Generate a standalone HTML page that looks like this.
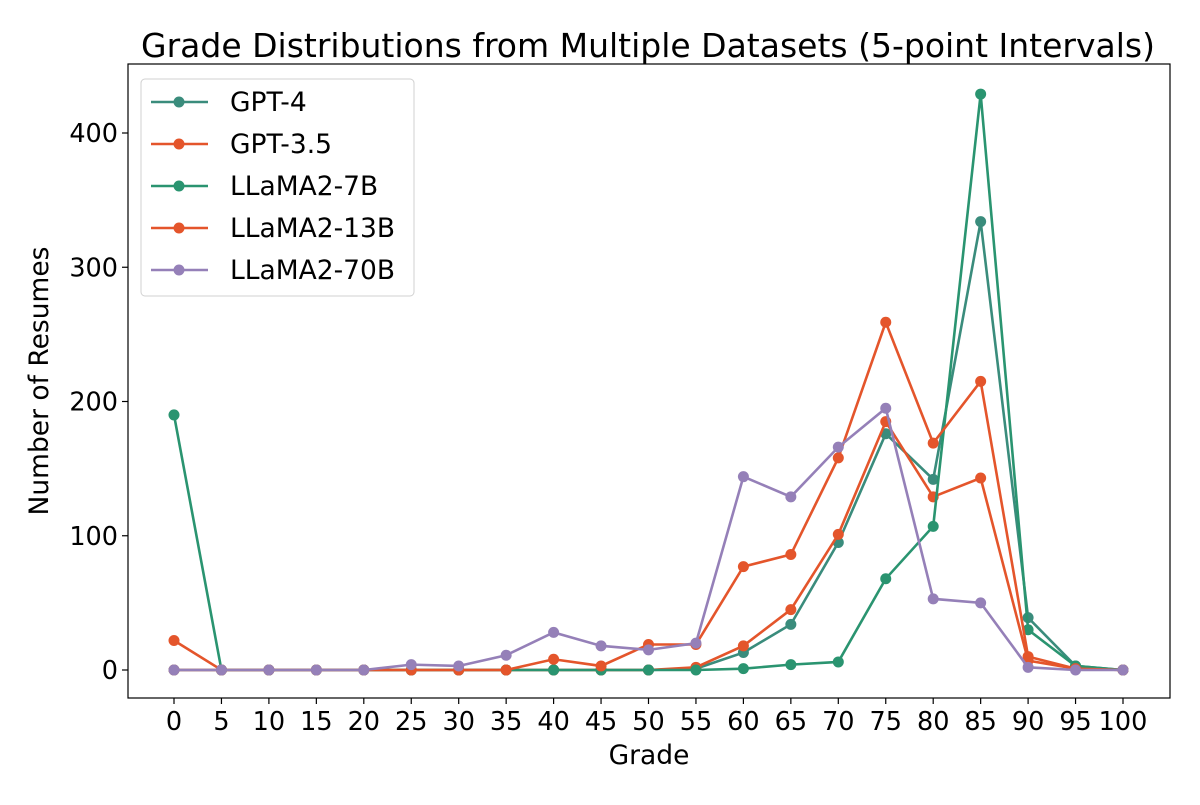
<!DOCTYPE html>
<html><head><meta charset="utf-8"><style>
body{margin:0;background:#fff;}
svg text{font-family:"DejaVu Sans","Liberation Sans",sans-serif;fill:#000;}
</style></head><body>
<svg id="chart" width="1200" height="800" xmlns="http://www.w3.org/2000/svg"></svg>
<script>
const grades=[0,5,10,15,20,25,30,35,40,45,50,55,60,65,70,75,80,85,90,95,100];
const seriesNames=["GPT-4","GPT-3.5","LLaMA2-7B","LLaMA2-13B","LLaMA2-70B"];
const gpt4=[0,0,0,0,0,0,0,0,0,0,0,1,13,34,95,176,142,334,39,3,0];
const gpt35=[0,0,0,0,0,0,0,0,0,0,0,2,18,45,101,185,129,143,7,1,0];
const llama7=[190,0,0,0,0,0,0,0,0,0,0,0,1,4,6,68,107,429,30,3,0];
const llama13=[22,0,0,0,0,0,0,0,8,3,19,19,77,86,158,259,169,215,10,1,0];
const llama70=[0,0,0,0,0,4,3,11,28,18,15,20,144,129,166,195,53,50,2,0,0];
const yTicks=[0,100,200,300,400];
const xTicks=[0,5,10,15,20,25,30,35,40,45,50,55,60,65,70,75,80,85,90,95,100];

const colors=["#3a8c7c","#e4552b","#2a9470","#e4552b","#9580b8"];
const allSeries=[gpt4,gpt35,llama7,llama13,llama70];
const L=128,R=1170,T=64,B=698;
const xs=v=>174+(v-0)*(1123-174)/100;
const ys=v=>670-v*(670-133)/400;
const NS="http://www.w3.org/2000/svg";
const svg=document.getElementById('chart');
function mk(tag,attrs,parent){const e=document.createElementNS(NS,tag);for(const k in attrs)e.setAttribute(k,attrs[k]);(parent||svg).appendChild(e);return e;}

let t=mk('text',{x:648,y:57,'text-anchor':'middle','font-size':33});
t.textContent="Grade Distributions from Multiple Datasets (5-point Intervals)";



const plot=mk('g',{});



allSeries.forEach((s,i)=>{
  const g=mk('g',{},plot);
  
  
  const pts=s.map((v,j)=>xs(grades[j])+','+ys(v)).join(' ');
  const pl=mk('polyline',{points:pts,fill:'none',stroke:colors[i],'stroke-width':2.6},g);
  
  
  s.forEach((v,j)=>{
    const c=mk('circle',{cx:xs(grades[j]),cy:ys(v),r:5.5,fill:colors[i]},g);
    
    
  });
});

const frame=mk('rect',{x:L,y:T,width:R-L,height:B-T,fill:'none',stroke:'#000','stroke-width':1.2});



const xa=mk('g',{});


xTicks.forEach(v=>{
  mk('line',{x1:xs(v),x2:xs(v),y1:B,y2:B+6,stroke:'#000','stroke-width':1.2},xa);
  const tx=mk('text',{x:xs(v),y:B+32,'text-anchor':'middle','font-size':25.5},xa);
  tx.textContent=v;
  
  
});
const ya=mk('g',{});


yTicks.forEach(v=>{
  mk('line',{x1:L-6,x2:L,y1:ys(v),y2:ys(v),stroke:'#000','stroke-width':1.2},ya);
  const tx=mk('text',{x:L-10,y:ys(v)+9,'text-anchor':'end','font-size':25.5},ya);
  tx.textContent=v;
  
  
});
t=mk('text',{x:649,y:764,'text-anchor':'middle','font-size':26.5});
t.textContent="Grade";


t=mk('text',{x:0,y:0,'text-anchor':'middle','font-size':26.5,transform:'translate(48,381) rotate(-90)'});
t.textContent="Number of Resumes";



const lg=mk('g',{});


mk('rect',{x:141,y:79,width:273,height:217,rx:4,fill:'#fff','fill-opacity':0.8,stroke:'#d0d0d0','stroke-width':1},lg);
seriesNames.forEach((n,i)=>{
  const y=102+i*42;
  const e=mk('g',{},lg);
  
  
  mk('line',{x1:151,x2:208,y1:y,y2:y,stroke:colors[i],'stroke-width':2.6},e);
  mk('circle',{cx:179,cy:y,r:5.5,fill:colors[i]},e);
  const tx=mk('text',{x:230,y:y+9,'font-size':26.5},e);
  tx.textContent=n;
});
</script>
</body></html>
